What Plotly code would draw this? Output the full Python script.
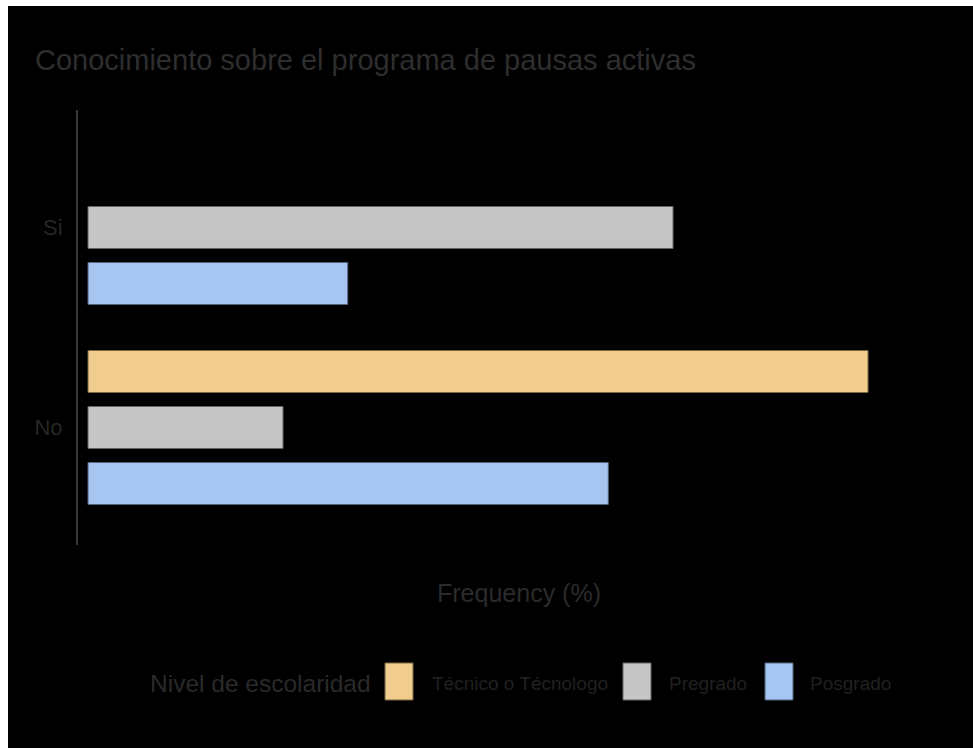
import plotly.graph_objects as go

# ---- data ----
categories = ["Si", "No"]
series_names = ["Técnico o Técnologo", "Pregrado", "Posgrado"]
tecnico = [None, 100.0]
pregrado = [75.0, 25.0]
posgrado = [33.3, 66.7]
series_values = [tecnico, pregrado, posgrado]

title_text = "Conocimiento sobre el programa de pausas activas"
x_title = "Frequency (%)"
legend_title = "Nivel de escolaridad"

# ---- styles ----
fill_colors = ["#F0CC8E", "#C6C6C6", "#A6C5F0"]
edge_colors = ["#7a6843", "#646464", "#53647d"]
FONT = "Liberation Sans Narrow, Arial Narrow, Liberation Sans, Arial, sans-serif"

W, H = 965, 742
ML, MR, MT, MB = 70, 13, 104, 203
PW = W - ML - MR
PH = H - MT - MB

fig = go.Figure()
for name, vals, fc, ec in zip(series_names, series_values, fill_colors, edge_colors):
    fig.add_trace(go.Bar(
        y=categories, x=vals, name=name, orientation="h",
        marker=dict(color=fc, line=dict(color=ec, width=1)),
        showlegend=False, hoverinfo="x+y+name",
    ))

fig.update_layout(
    width=W, height=H,
    margin=dict(l=ML, r=MR, t=MT, b=MB, pad=0),
    paper_bgcolor="#000000", plot_bgcolor="#000000",
    barmode="group", bargap=0.16, bargroupgap=0.25,
    font=dict(family=FONT, color="#262626"),
    title=dict(text=title_text, x=27 / W, xref="container", xanchor="left",
               y=1 - 54 / H, yref="container", yanchor="middle",
               font=dict(family=FONT, size=29, color="#2e2e2e")),
    xaxis=dict(range=[-1.282, 111.79], showgrid=False, zeroline=False,
               showline=False, showticklabels=False, ticks="",
               title=dict(text=x_title, standoff=39,
                          font=dict(family=FONT, size=25, color="#2b2b2b"))),
    yaxis=dict(range=[1.5875, -0.5875], showgrid=False, zeroline=False,
               showline=True, linecolor="#3a3a3a", linewidth=2,
               ticks="", ticklabelstandoff=9,
               tickfont=dict(family=FONT, size=22, color="#262626")),
)

# ---- manual legend (paper coords computed from figure pixels) ----
def px_x(fx):
    return (fx - ML) / PW

def px_y(fy):
    return (H - MB - fy) / PH

leg_cy = 677
sw_top, sw_bot = 657, 694
swatch_left = [377, 615, 757]
text_left = [422, 659, 800]

fig.add_annotation(text=legend_title, xref="paper", yref="paper",
                   x=px_x(140), y=px_y(leg_cy), xanchor="left", yanchor="middle",
                   showarrow=False, font=dict(family=FONT, size=24.5, color="#2a2a2a"))
for name, fc, ec, sl, tl in zip(series_names, fill_colors, edge_colors, swatch_left, text_left):
    fig.add_shape(type="rect", xref="paper", yref="paper",
                  x0=px_x(sl), x1=px_x(sl + 28), y0=px_y(sw_bot), y1=px_y(sw_top),
                  fillcolor=fc, line=dict(color=ec, width=1))
    fig.add_annotation(text=name, xref="paper", yref="paper",
                       x=px_x(tl), y=px_y(leg_cy), xanchor="left", yanchor="middle",
                       showarrow=False, font=dict(family=FONT, size=19, color="#202020"))

fig.write_html("out.html",
               post_script="document.body.style.margin='6px 0 0 8px';document.body.style.overflow='hidden';")
